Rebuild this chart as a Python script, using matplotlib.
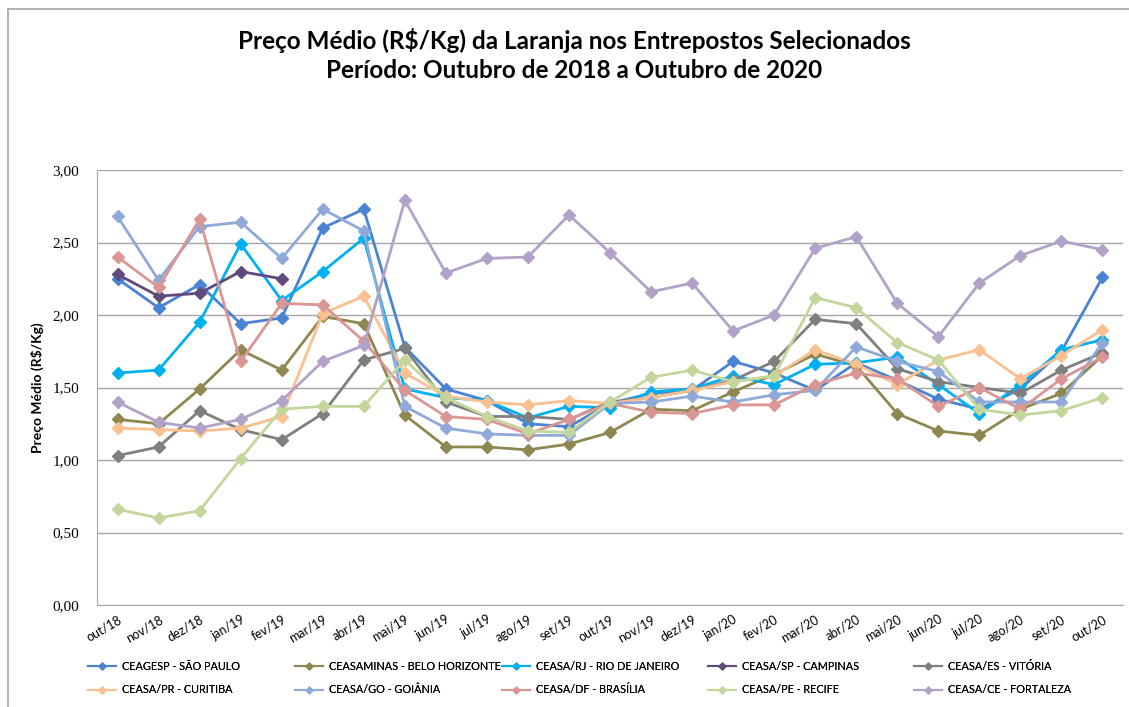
import numpy as np
import matplotlib
matplotlib.use("Agg")
import matplotlib.pyplot as plt
from matplotlib.lines import Line2D

months = ['out/18', 'nov/18', 'dez/18', 'jan/19', 'fev/19', 'mar/19', 'abr/19', 'mai/19',
          'jun/19', 'jul/19', 'ago/19', 'set/19', 'out/19', 'nov/19', 'dez/19', 'jan/20',
          'fev/20', 'mar/20', 'abr/20', 'mai/20', 'jun/20', 'jul/20', 'ago/20', 'set/20', 'out/20']

nan = np.nan
ceagesp_sp = [2.25, 2.05, 2.21, 1.94, 1.98, 2.60, 2.73, 1.78, 1.49, 1.41, 1.25, 1.23, 1.39,
              1.46, 1.48, 1.68, 1.60, 1.48, 1.67, 1.55, 1.42, 1.35, 1.49, 1.75, 2.26]
ceasaminas_bh = [1.28, 1.25, 1.49, 1.76, 1.62, 1.99, 1.94, 1.31, 1.09, 1.09, 1.07, 1.11, 1.19,
                 1.35, 1.34, 1.47, 1.59, 1.73, 1.65, 1.32, 1.20, 1.17, 1.35, 1.46, 1.72]
ceasa_rj = [1.60, 1.62, 1.95, 2.49, 2.10, 2.30, 2.53, 1.49, 1.43, 1.41, 1.29, 1.37, 1.36,
            1.47, 1.49, 1.58, 1.52, 1.66, 1.67, 1.71, 1.52, 1.32, 1.52, 1.76, 1.83]
ceasa_campinas = [2.28, 2.13, 2.15, 2.30, 2.25] + [nan] * 20
ceasa_es = [1.03, 1.09, 1.34, 1.21, 1.14, 1.32, 1.69, 1.77, 1.40, 1.30, 1.30, 1.28, 1.40,
            1.43, 1.48, 1.55, 1.68, 1.97, 1.94, 1.63, 1.54, 1.50, 1.46, 1.62, 1.74]
ceasa_pr = [1.22, 1.21, 1.20, 1.22, 1.30, 2.01, 2.13, 1.60, 1.44, 1.40, 1.38, 1.41, 1.39,
            1.43, 1.48, 1.54, 1.58, 1.76, 1.66, 1.52, 1.69, 1.76, 1.56, 1.72, 1.90]
ceasa_go = [2.68, 2.24, 2.61, 2.64, 2.39, 2.73, 2.58, 1.37, 1.22, 1.18, 1.17, 1.17, 1.39,
            1.40, 1.44, 1.40, 1.45, 1.48, 1.78, 1.68, 1.61, 1.40, 1.40, 1.40, 1.81]
ceasa_df = [2.40, 2.19, 2.66, 1.68, 2.08, 2.07, 1.82, 1.48, 1.30, 1.28, 1.18, 1.28, 1.39,
            1.33, 1.32, 1.38, 1.38, 1.52, 1.60, 1.56, 1.37, 1.50, 1.35, 1.56, 1.71]
ceasa_pe = [0.66, 0.60, 0.65, 1.01, 1.35, 1.37, 1.37, 1.69, 1.43, 1.30, 1.20, 1.19, 1.40,
            1.57, 1.62, 1.54, 1.58, 2.12, 2.05, 1.81, 1.69, 1.35, 1.31, 1.34, 1.43]
ceasa_ce = [1.40, 1.26, 1.22, 1.28, 1.41, 1.68, 1.79, 2.79, 2.29, 2.39, 2.40, 2.69, 2.43,
            2.16, 2.22, 1.89, 2.00, 2.46, 2.54, 2.08, 1.85, 2.22, 2.41, 2.51, 2.45]

series_names = ['CEAGESP - SÃO PAULO', 'CEASAMINAS - BELO HORIZONTE', 'CEASA/RJ - RIO DE JANEIRO',
                'CEASA/SP - CAMPINAS', 'CEASA/ES - VITÓRIA', 'CEASA/PR - CURITIBA',
                'CEASA/GO - GOIÂNIA', 'CEASA/DF - BRASÍLIA', 'CEASA/PE - RECIFE',
                'CEASA/CE - FORTALEZA']
series_values = [ceagesp_sp, ceasaminas_bh, ceasa_rj, ceasa_campinas, ceasa_es, ceasa_pr,
                 ceasa_go, ceasa_df, ceasa_pe, ceasa_ce]
colors = ['#4A83D4', '#8F8750', '#00B0F0', '#604A7B', '#7F7F7F', '#FAC090',
          '#8FAAD8', '#D99694', '#C3D69B', '#B3A2C7']

yticks = [0.0, 0.5, 1.0, 1.5, 2.0, 2.5, 3.0]
ytick_labels = ['0,00', '0,50', '1,00', '1,50', '2,00', '2,50', '3,00']

title = 'Preço Médio (R$/Kg) da Laranja nos Entrepostos Selecionados\nPeríodo: Outubro de 2018 a Outubro de 2020'
ylabel = 'Preço Médio (R$/Kg)'

W, H = 1129, 707
fig = plt.figure(figsize=(W / 100, H / 100), dpi=100)
fig.patch.set_facecolor('white')

# chart frame
fig.add_artist(Line2D([8 / W, 1.0], [1 - 9 / H, 1 - 9 / H], color='#A6A6A6', lw=1.2))
fig.add_artist(Line2D([8 / W, 8 / W], [0.0, 1 - 9 / H], color='#A6A6A6', lw=1.2))

left, right, top, bottom = 97, 1123, 170, 605
ax = fig.add_axes([left / W, 1 - bottom / H, (right - left) / W, (bottom - top) / H])

x = np.arange(len(months))
handles = []
for name, vals, c in zip(series_names, series_values, colors):
    h, = ax.plot(x, vals, color=c, lw=2.0, marker='D', markersize=6.5,
                 markerfacecolor=c, markeredgecolor=c, label=name, zorder=3)
    handles.append(h)

ax.set_xlim(-0.5, len(months) - 0.5)
ax.set_ylim(0, 3.0)
ax.set_yticks(yticks)
ax.set_yticklabels(ytick_labels, family='Liberation Serif', fontsize=11)
ax.set_xticks(x)
ax.set_xticklabels(months, rotation=30, ha='right', rotation_mode='anchor',
                   family='Lato', fontsize=9)
ax.tick_params(axis='y', length=0, pad=13)
ax.tick_params(axis='x', length=0, pad=6)
ax.yaxis.grid(True, color='#A6A6A6', lw=1.0)
ax.set_axisbelow(True)
for s in ['top', 'right']:
    ax.spines[s].set_visible(False)
ax.spines['left'].set_color('#A6A6A6')
ax.spines['bottom'].set_color('#A6A6A6')
ax.set_ylabel(ylabel, family='Lato', fontweight='bold', fontsize=10, labelpad=6)

fig.text(574 / W, 1 - 55 / H, title, ha='center', va='center', family='Lato',
         fontweight='bold', fontsize=17.5, linespacing=1.35)

# legend: 5 columns x 2 rows, uniform column spacing
col_x = [88, 295, 502, 708, 914]
for c in range(5):
    hs = [Line2D([], [], color=colors[c], lw=1.5, marker='D', markersize=3.5),
          Line2D([], [], color=colors[c + 5], lw=1.5, marker='D', markersize=3.5)]
    leg = fig.legend(hs, [series_names[c], series_names[c + 5]], loc='upper left',
                     bbox_to_anchor=(col_x[c] / W, 1 - 661 / H), frameon=False,
                     prop={'family': 'Lato', 'size': 7.8}, handlelength=2.6,
                     handletextpad=0.5, labelspacing=1.15, borderaxespad=0, borderpad=0)
    fig.add_artist(leg)

fig.savefig('out.png', dpi=100, facecolor='white')
